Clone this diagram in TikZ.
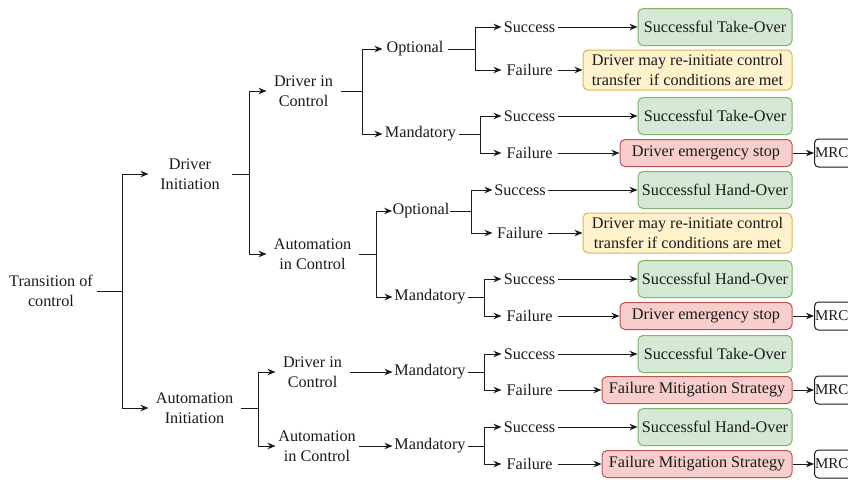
\documentclass[tikz,border=0pt]{standalone}
\usepackage{fontspec}
\setmainfont{Liberation Serif}
\usetikzlibrary{arrows.meta}
\definecolor{okfill}{HTML}{D5E8D4}
\definecolor{okline}{HTML}{82B366}
\definecolor{mayfill}{HTML}{FFF2CC}
\definecolor{mayline}{HTML}{D6B656}
\definecolor{badfill}{HTML}{F8CECC}
\definecolor{badline}{HTML}{B85450}
\definecolor{ink}{HTML}{1A1A1A}
\begin{document}
\begin{tikzpicture}[x=1pt, y=-1pt, line width=1pt, draw=ink, text=ink,
		font=\fontsize{16.2}{19.5}\selectfont,
		lbl/.style={inner sep=0pt, align=center},
		arr/.style={-{Stealth[length=8pt, width=6.5pt]}},
		okbox/.style={draw=okline, fill=okfill, rounded corners=5pt, minimum width=154pt, minimum height=37pt, inner sep=0pt},
		maybox/.style={draw=mayline, fill=mayfill, rounded corners=5pt, minimum width=209pt, minimum height=40pt, inner sep=0pt, align=center},
		badbox/.style={draw=badline, fill=badfill, rounded corners=5pt, minimum height=27pt, inner sep=0pt},
		mrcbox/.style={draw=ink, rounded corners=4pt, anchor=west, minimum height=28pt, text width=58pt, inner xsep=0.5pt, align=left, font=\fontsize{15}{18}\selectfont}]
			\useasboundingbox (0,0) rectangle (848,479);
			% tree levels
			\node [lbl, minimum width=90pt] (toc) at (51,291) {Transition of\\control};
			\node [lbl, minimum width=82pt] (dinit) at (190,174) {Driver\\Initiation};
			\node [lbl, minimum width=91pt] (ainit) at (194.5,408) {Automation\\Initiation};
			\node [lbl, minimum width=73pt] (dic1) at (303.5,91) {Driver in\\Control};
			\node [lbl, minimum width=91pt] (aic1) at (312.5,254) {Automation\\in Control};
			\node [lbl, minimum width=73pt] (dic2) at (312.5,372) {Driver in\\Control};
			\node [lbl, minimum width=82pt] (aic2) at (317,446) {Automation\\in Control};
			\node [lbl, minimum width=64pt] (opt1) at (415,49) {Optional};
			\node [lbl, minimum width=75pt] (man1) at (420.5,134) {Mandatory};
			\node [lbl, minimum width=56pt] (opt2) at (421,211) {Optional};
			\node [lbl, minimum width=74pt] (man2) at (430,297) {Mandatory};
			\node [lbl, minimum width=74pt] (man3) at (430,372) {Mandatory};
			\node [lbl, minimum width=74pt] (man4) at (430,446) {Mandatory};
			% outcomes
			\node [lbl, minimum width=55pt] (s1) at (529.5,27) {Success};
			\node [lbl, minimum width=55pt] (f1) at (529.5,70) {Failure};
			\node [lbl, minimum width=55pt] (s2) at (529.5,116) {Success};
			\node [lbl, minimum width=55pt] (f2) at (529.5,153) {Failure};
			\node [lbl, minimum width=54pt] (s3) at (520,190) {Success};
			\node [lbl, minimum width=54pt] (f3) at (520,233) {Failure};
			\node [lbl, minimum width=55pt] (s4) at (529.5,279) {Success};
			\node [lbl, minimum width=55pt] (f4) at (529.5,316) {Failure};
			\node [lbl, minimum width=55pt] (s5) at (529.5,354) {Success};
			\node [lbl, minimum width=55pt] (f5) at (529.5,390) {Failure};
			\node [lbl, minimum width=55pt] (s6) at (529.5,427) {Success};
			\node [lbl, minimum width=55pt] (f6) at (529.5,464) {Failure};
			% result boxes
			\node [okbox] (ok1) at (715,27) {Successful Take-Over};
			\node [maybox] (may1) at (687.5,70) {Driver may re-initiate control\\transfer\ \ if conditions are met};
			\node [okbox] (ok2) at (715,116) {Successful Take-Over};
			\node [badbox, minimum width=172pt] (stop1) at (706,153) {Driver emergency stop};
			\node [okbox] (ok3) at (715,190) {Successful Hand-Over};
			\node [maybox] (may2) at (687.5,233) {Driver may re-initiate control\\transfer if conditions are met};
			\node [okbox] (ok4) at (715,279) {Successful Hand-Over};
			\node [badbox, minimum width=172pt] (stop2) at (706,316) {Driver emergency stop};
			\node [okbox] (ok5) at (715,354) {Successful Take-Over};
			\node [badbox, minimum width=190pt] (fms1) at (697,390) {Failure Mitigation Strategy};
			\node [okbox] (ok6) at (715,427) {Successful Hand-Over};
			\node [badbox, minimum width=190pt] (fms2) at (697,464) {Failure Mitigation Strategy};
			\node [mrcbox] (mrc1) at (814,153) {MRC};
			\node [mrcbox] (mrc2) at (814,316) {MRC};
			\node [mrcbox] (mrc3) at (814,390) {MRC};
			\node [mrcbox] (mrc4) at (814,464) {MRC};
			% junctions
			\coordinate (jT) at (122,291);
			\coordinate (jD) at (249,174);
			\coordinate (jA) at (258,408);
			\coordinate (jDD) at (362,91);
			\coordinate (jDA) at (376,254);
			\coordinate (jO1) at (475,49);
			\coordinate (jM1) at (480,134);
			\coordinate (jO2) at (471,211);
			\coordinate (jM2) at (484,297);
			\coordinate (jM3) at (484,372);
			\coordinate (jM4) at (484,446);
			% connectors
			\draw (toc) -- (jT);
			\draw [arr] (jT) |- (dinit);
			\draw [arr] (jT) |- (ainit);
			\draw (dinit) -- (jD);
			\draw [arr] (jD) |- (dic1);
			\draw [arr] (jD) |- (aic1);
			\draw (ainit) -- (jA);
			\draw [arr] (jA) |- (dic2);
			\draw [arr] (jA) |- (aic2);
			\draw (dic1) -- (jDD);
			\draw [arr] (jDD) |- (opt1);
			\draw [arr] (jDD) |- (man1);
			\draw (aic1) -- (jDA);
			\draw [arr] (jDA) |- (opt2);
			\draw [arr] (jDA) |- (man2);
			\draw [arr] (dic2) -- (man3);
			\draw [arr] (aic2) -- (man4);
			\draw (opt1) -- (jO1);
			\draw [arr] (jO1) |- (s1);
			\draw [arr] (jO1) |- (f1);
			\draw (man1) -- (jM1);
			\draw [arr] (jM1) |- (s2);
			\draw [arr] (jM1) |- (f2);
			\draw (opt2) -- (jO2);
			\draw [arr] (jO2) |- (s3);
			\draw [arr] (jO2) |- (f3);
			\draw (man2) -- (jM2);
			\draw [arr] (jM2) |- (s4);
			\draw [arr] (jM2) |- (f4);
			\draw (man3) -- (jM3);
			\draw [arr] (jM3) |- (s5);
			\draw [arr] (jM3) |- (f5);
			\draw (man4) -- (jM4);
			\draw [arr] (jM4) |- (s6);
			\draw [arr] (jM4) |- (f6);
			\draw [arr] (s1) -- (ok1);
			\draw [arr] (f1) -- (may1);
			\draw [arr] (s2) -- (ok2);
			\draw [arr] (f2) -- (stop1);
			\draw [arr] (s3) -- (ok3);
			\draw [arr] (f3) -- (may2);
			\draw [arr] (s4) -- (ok4);
			\draw [arr] (f4) -- (stop2);
			\draw [arr] (s5) -- (ok5);
			\draw [arr] (f5) -- (fms1);
			\draw [arr] (s6) -- (ok6);
			\draw [arr] (f6) -- (fms2);
			\draw [arr] (stop1) -- (mrc1);
			\draw [arr] (stop2) -- (mrc2);
			\draw [arr] (fms1) -- (mrc3);
			\draw [arr] (fms2) -- (mrc4);
	\end{tikzpicture}
\end{document}
